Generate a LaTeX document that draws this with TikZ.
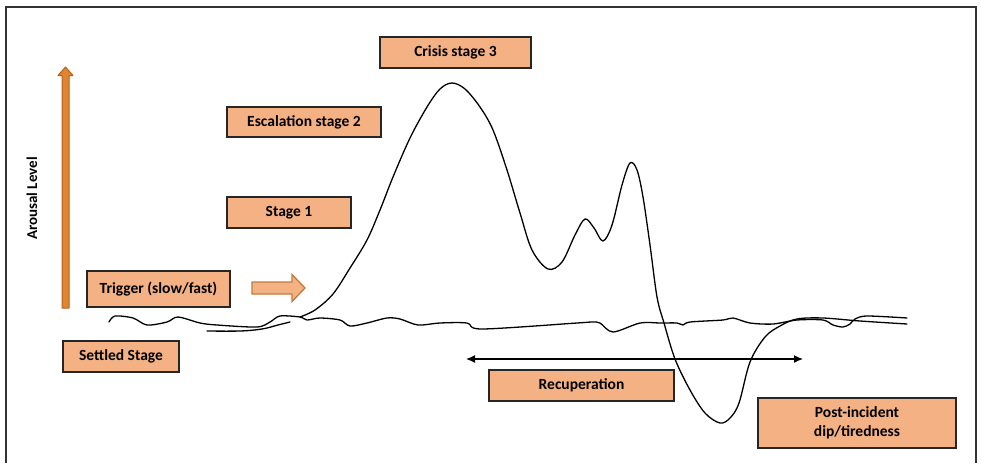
\documentclass[tikz,border=0pt]{standalone}
\usepackage{fontspec}
\setmainfont{Carlito}
\usetikzlibrary{arrows.meta}
\definecolor{boxfill}{HTML}{F4B183}
\definecolor{boxline}{HTML}{262626}
\definecolor{orangedark}{HTML}{B8621B}
\definecolor{orangemid}{HTML}{DF8431}
\definecolor{arrowline}{HTML}{C47A3A}
\tikzset{
  stagebox/.style={draw=boxline, line width=1.5pt, fill=boxfill, font=\bfseries\fontsize{15.5}{17.5}\selectfont,
    text=black, inner sep=0pt, align=center},
  wave/.style={draw=black, line width=1.3pt, line join=round, line cap=round},
}
\begin{document}
\begin{tikzpicture}[x=1pt,y=-1pt]
\useasboundingbox (0,0) rectangle (981,463);
% frame
\draw[line width=1.2pt, draw=black!80] (6,463) -- (6,7) -- (976,7) -- (976,463);

% boxes
\node[stagebox, minimum width=151pt, minimum height=31pt] (crisis) at (455.5,52.5) {Crisis stage 3};
\node[stagebox, minimum width=154pt, minimum height=30pt] (escal) at (304,122) {Escalation stage 2};
\node[stagebox, minimum width=124pt, minimum height=31pt] (stage1) at (289,212.5) {Stage 1};
\node[stagebox, minimum width=143pt, minimum height=36pt] (trigger) at (158.5,289) {Trigger (slow/fast)};
\node[stagebox, minimum width=116pt, minimum height=31pt] (settled) at (121,356.5) {Settled Stage};
\node[stagebox, minimum width=185pt, minimum height=31pt] (recup) at (581.5,385.5) {Recuperation};
\node[stagebox, minimum width=198pt, minimum height=50pt] (post) at (857,423) {Post-incident\\[1pt]dip/tiredness};

% arousal axis
\node[rotate=90, font=\bfseries\fontsize{15}{17}\selectfont] (arousal) at (32,198.5) {Arousal Level};
\draw[fill=orangemid, draw=orangedark, line width=1pt, line join=round]
  (62,308) -- (62,75.5) -- (58,75.5) -- (65.5,67) -- (73,75.5) -- (69,75.5) -- (69,308) -- cycle;

% block arrow
\draw[fill=boxfill, draw=arrowline, line width=1.3pt, line join=miter]
  (252,282) -- (292,282) -- (292,274.5) -- (305,288) -- (292,301.5) -- (292,294) -- (252,294) -- cycle;

% recuperation span
\coordinate (rl) at (466,359);
\coordinate (rr) at (803,359);
\draw[line width=1.3pt, {Latex[length=9pt,width=8pt]}-{Latex[length=9pt,width=8pt]}] (rl) -- (rr);

% baseline (settled level)
\draw[wave] plot[smooth, tension=0.5] coordinates {
 (109,322) (115,316) (133,318) (147,325) (167,322) (178,317) (200,323) (217,325) (257,327)
 (270,322) (280,316) (300,317) (307,320) (320,318) (340,320) (350,326) (367,323) (387,318)
 (400,319) (418,325) (440,323) (467,323) (482,329) (577,323) (592,322) (600,323) (613,332)
 (640,323) (660,323) (677,323) (683,325) (690,322) (723,320) (733,318) (750,323) (773,324)
 (797,320) (823,320) (833,325) (843,327) (850,324) (855,319) (867,316) (907,318)};

% short stroke at the start
\draw[wave] plot[smooth, tension=0.6] coordinates {(207,331) (240,331) (262,329) (278,325) (290,322)};

% arousal curve
\draw[wave] plot[smooth, tension=0.55] coordinates {
 (300,317) (315,310) (333,294) (350,268) (367,240) (380,210) (393,177) (410,138) (427,107)
 (440,89) (452,83) (465,89) (480,107) (493,130) (507,170) (520,213) (532,250) (548,269)
 (562,262) (575,235) (585,219) (594,228) (603,241) (612,225) (622,185) (630,163) (637,170)
 (643,197) (650,245) (657,297) (664,323) (675,359) (690,390) (705,413) (720,423) (730,418)
 (739,403) (750,362) (765,337) (780,326) (797,319) (823,318) (860,321) (907,324)};
\end{tikzpicture}
\end{document}
